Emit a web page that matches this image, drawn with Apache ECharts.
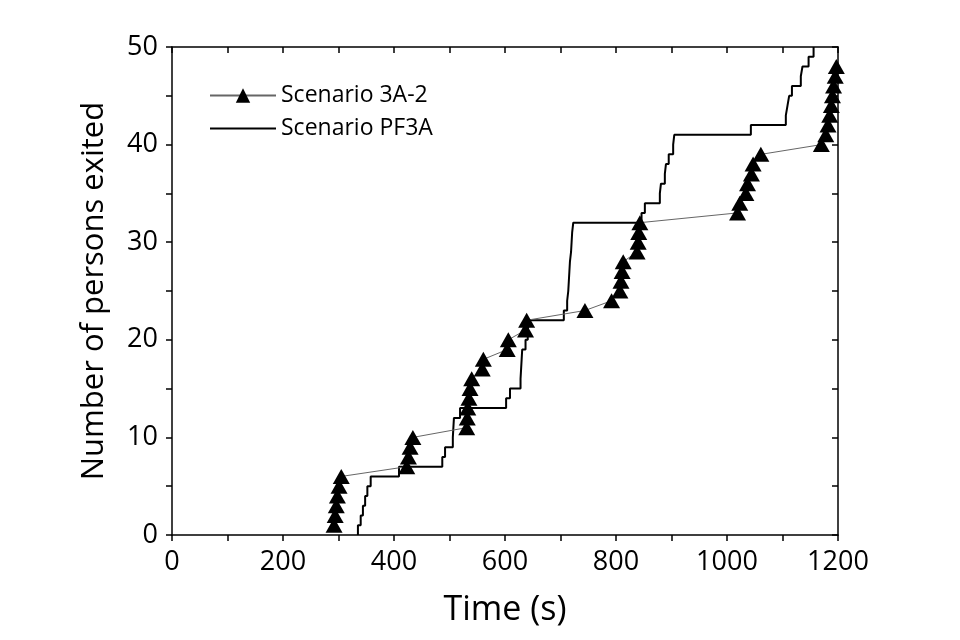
<!DOCTYPE html>
<html>
<head>
    <meta charset="utf-8">
    <title>Number of persons exited</title>
    <script src="https://cdn.jsdelivr.net/npm/echarts@6/dist/echarts.min.js"></script>
</head>
<body style="margin:0;">
<div id="main" style="width:960px;height:640px;"></div>
<script type="text/javascript">
    // Scenario 3A-2: time (s) at which each person exited
    var t3A = [292, 294, 296, 298, 301, 305,
               423, 426, 429, 434,
               531, 532, 533, 535, 537, 540,
               559, 561, 604, 606, 637, 639,
               744, 792, 807, 809, 811, 813,
               838, 840, 841, 843,
               1019, 1023, 1034, 1037, 1044, 1047, 1061,
               1170, 1178, 1182, 1185, 1188, 1190, 1192, 1195, 1197];
    var n3A = [1, 2, 3, 4, 5, 6,
               7, 8, 9, 10,
               11, 12, 13, 14, 15, 16,
               17, 18, 19, 20, 21, 22,
               23, 24, 25, 26, 27, 28,
               29, 30, 31, 32,
               33, 34, 35, 36, 37, 38, 39,
               40, 41, 42, 43, 44, 45, 46, 47, 48];

    // Scenario PF3A: step curve (time when count reaches n)
    var tPF = [335, 335, 340, 344, 348, 352, 358,
               409, 487, 492, 506, 507, 508, 519,
               602, 609, 628, 629, 630, 631, 637, 641, 644,
               706, 712, 714, 715, 716, 717, 719, 720, 721, 723,
               846, 852, 879, 881, 888, 890, 895, 903, 905,
               1043, 1106, 1109, 1112, 1117, 1133, 1136, 1147, 1156];
    var nPF = [0, 1, 2, 3, 4, 5, 6,
               7, 8, 9, 10, 11, 12, 13,
               14, 15, 16, 17, 18, 19, 20, 21, 22,
               23, 24, 25, 26, 27, 28, 29, 30, 31, 32,
               33, 34, 35, 36, 37, 38, 39, 40, 41,
               42, 43, 44, 45, 46, 47, 48, 49, 50];

    var font = '"Open Sans", sans-serif';

    var data3A = t3A.map(function (t, i) { return [t, n3A[i]]; });
    var dataPF = tPF.map(function (t, i) { return [t, nPF[i]]; });

    var myChart = echarts.init(document.getElementById('main'));

    var tickStyle = {color: '#000', width: 1.5};
    var lineStyle = {color: '#000', width: 1.5};
    var plain = function (v) { return String(v); };

    myChart.setOption({
        animation: false,
        backgroundColor: '#fff',
        grid: {left: 172, right: 122, top: 47, bottom: 105},
        legend: {
            orient: 'vertical',
            left: 204,
            top: 79,
            itemWidth: 66,
            itemHeight: 18,
            itemGap: 10,
            textStyle: {fontFamily: font, fontSize: 23, color: '#000'},
            data: [
                {name: 'Scenario 3A-2'},
                {name: 'Scenario PF3A', itemStyle: {opacity: 0}}
            ]
        },
        xAxis: [{
            type: 'value',
            min: 0,
            max: 1200,
            interval: 200,
            name: 'Time (s)',
            nameLocation: 'middle',
            nameGap: 58,
            nameTextStyle: {fontFamily: font, fontSize: 34, color: '#000'},
            axisLine: {show: true, onZero: false, lineStyle: lineStyle},
            axisTick: {show: true, inside: false, length: 6, lineStyle: tickStyle},
            minorTick: {show: true, splitNumber: 2, length: 6, lineStyle: tickStyle},
            axisLabel: {fontFamily: font, fontSize: 27, color: '#000', margin: 14, formatter: plain},
            splitLine: {show: false}
        }, {
            type: 'value',
            position: 'top',
            min: 0,
            max: 1200,
            interval: 200,
            axisLine: {show: true, onZero: false, lineStyle: lineStyle},
            axisTick: {show: true, inside: true, length: 6, lineStyle: tickStyle},
            minorTick: {show: true, splitNumber: 2, length: 6, lineStyle: tickStyle},
            axisLabel: {show: false},
            splitLine: {show: false}
        }],
        yAxis: [{
            type: 'value',
            min: 0,
            max: 50,
            interval: 10,
            name: 'Number of persons exited',
            nameLocation: 'middle',
            nameGap: 62,
            nameTextStyle: {fontFamily: font, fontSize: 31, color: '#000'},
            axisLine: {show: true, onZero: false, lineStyle: lineStyle},
            axisTick: {show: true, inside: false, length: 6, lineStyle: tickStyle},
            minorTick: {show: true, splitNumber: 2, length: 6, lineStyle: tickStyle},
            axisLabel: {fontFamily: font, fontSize: 27, color: '#000', margin: 14, formatter: plain},
            splitLine: {show: false}
        }, {
            type: 'value',
            position: 'right',
            min: 0,
            max: 50,
            interval: 10,
            axisLine: {show: true, onZero: false, lineStyle: lineStyle},
            axisTick: {show: true, inside: true, length: 6, lineStyle: tickStyle},
            minorTick: {show: true, splitNumber: 2, length: 6, lineStyle: tickStyle},
            axisLabel: {show: false},
            splitLine: {show: false}
        }],
        series: [{
            name: 'Scenario 3A-2',
            type: 'line',
            data: data3A,
            symbol: 'triangle',
            symbolSize: [17, 15],
            showAllSymbol: true,
            itemStyle: {color: '#000'},
            lineStyle: {color: '#666', width: 1},
            z: 3
        }, {
            name: 'Scenario PF3A',
            type: 'line',
            data: dataPF,
            step: 'end',
            symbol: 'none',
            itemStyle: {color: '#000'},
            lineStyle: {color: '#000', width: 2},
            z: 2
        }]
    });
</script>
</body>
</html>
